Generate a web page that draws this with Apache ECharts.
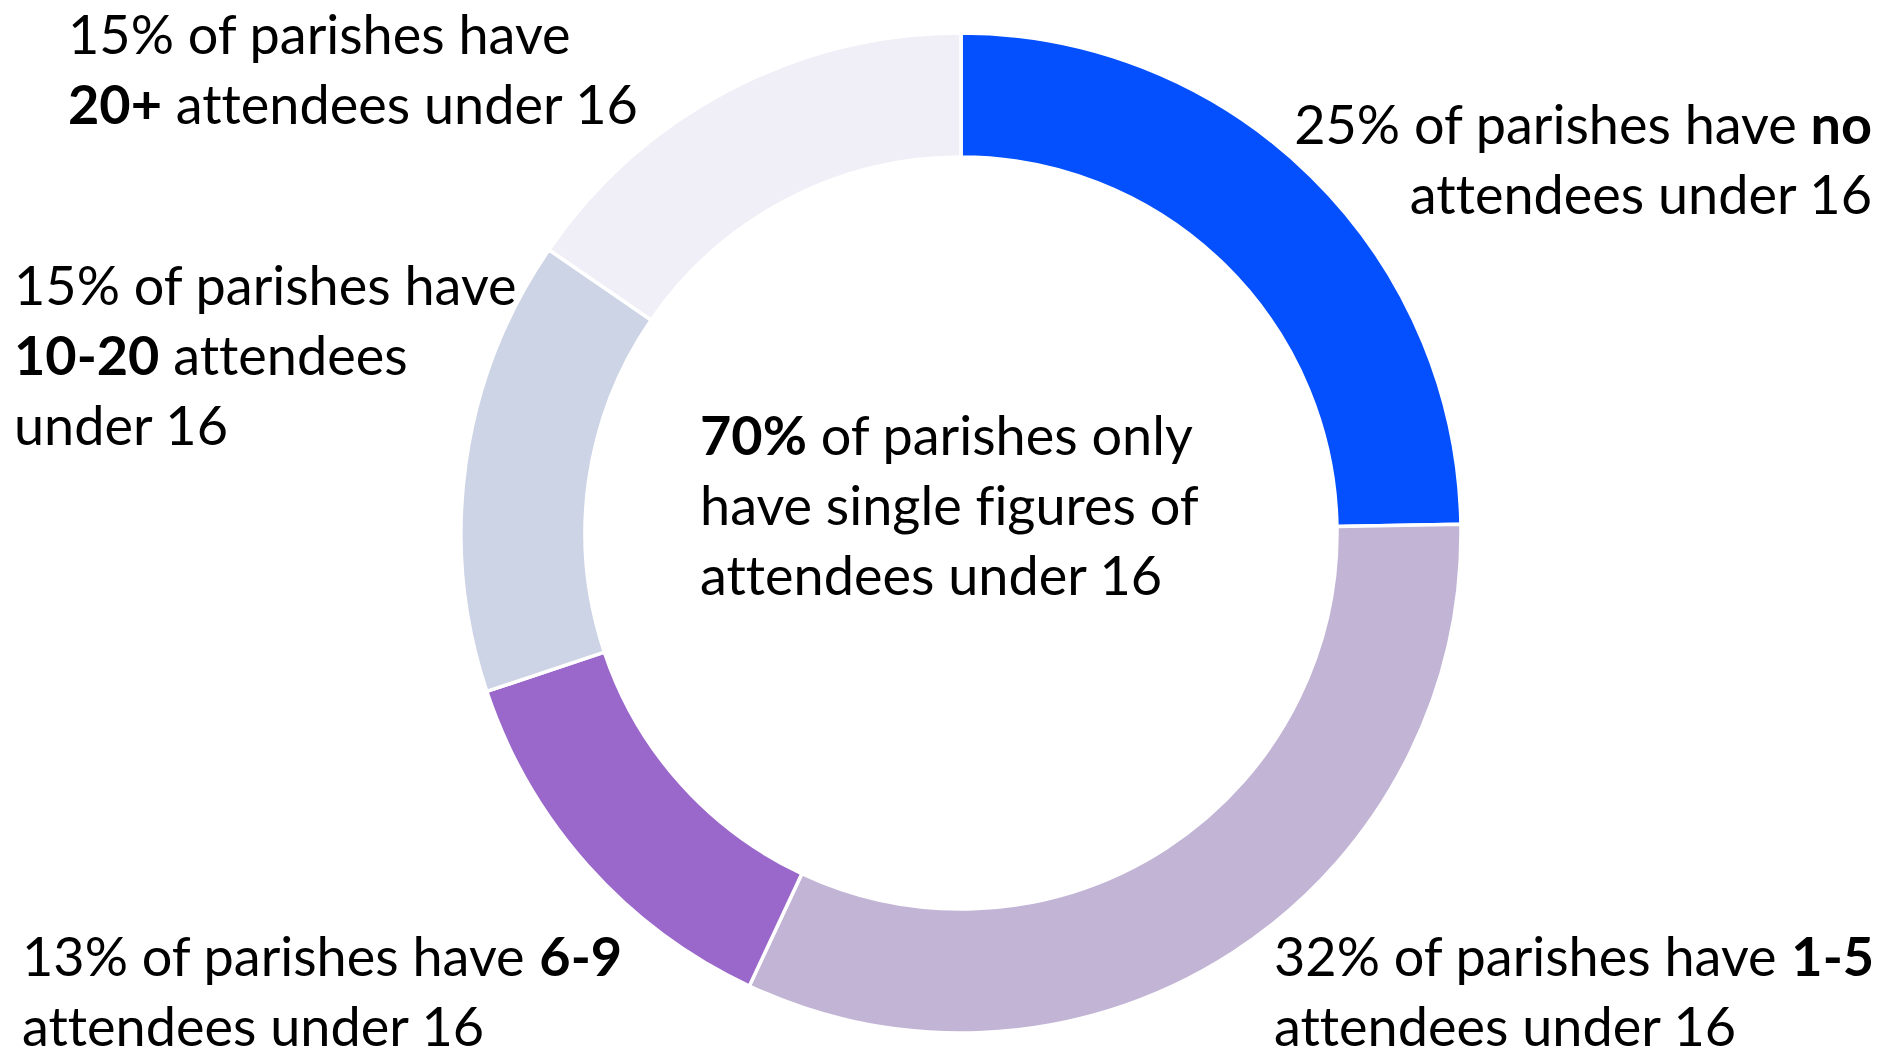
<!DOCTYPE html>
<html lang="en">
<head>
<meta charset="utf-8" />
<title>Parishes with attendees under 16</title>
<script src="https://cdn.jsdelivr.net/npm/echarts@6/dist/echarts.min.js"></script>
<style>
  html, body { margin: 0; padding: 0; background: #ffffff; }
  #contenedor-grafico { width: 1885px; height: 1061px; }
  #contenedor-grafico text { font-variant-ligatures: none; }
</style>
</head>
<body>
<div id="contenedor-grafico"></div>
<script>
// groups of parishes by number of attendees under 16, clockwise from the top
const grupos = ["no", "1-5", "6-9", "10-20", "20+"];
const porcentajes = [24.7, 32.2, 12.9, 14.7, 15.4];
const colores = ["#0450ff", "#c1b4d5", "#9a67ca", "#cdd4e6", "#f0eef6"];

// how each label is broken into lines (PCT and GRUPO get filled in)
const plantillas = [
  "{n|PCT of parishes have }{b|GRUPO}\n{n|attendees under 16}",
  "{n|PCT of parishes have }{b|GRUPO}\n{n|attendees under 16}",
  "{n|PCT of parishes have }{b|GRUPO}\n{n|attendees under 16}",
  "{n|PCT of parishes have}\n{b|GRUPO}{n| attendees}\n{n|under 16}",
  "{n|PCT of parishes have}\n{b|GRUPO}{n| attendees under 16}",
];

// where each label sits on the page
const posEtiquetas = [
  { x: 1872, y: 88, align: "right" },
  { x: 1274, y: 920, align: "left" },
  { x: 22, y: 920, align: "left" },
  { x: 14, y: 249, align: "left" },
  { x: 68, y: -2, align: "left" },
];

const fuente = "Lato, 'Open Sans', sans-serif";
const estilosTexto = {
  n: { fontFamily: fuente, fontSize: 54, lineHeight: 70, color: "#000000", fontWeight: "normal" },
  b: { fontFamily: fuente, fontSize: 54, lineHeight: 70, color: "#000000", fontWeight: "bold" },
};

function textoEtiqueta(i) {
  return plantillas[i].replace("PCT", Math.round(porcentajes[i]) + "%").replace("GRUPO", grupos[i]);
}

function crearGrafica() {
  var dom = document.getElementById("contenedor-grafico");
  var myChart = echarts.init(dom, null, { renderer: "svg" });

  // single figures = no + 1-5 + 6-9
  var unaCifra = Math.round(porcentajes[0] + porcentajes[1] + porcentajes[2]);

  var datos = grupos.map((g, i) => ({
    name: g,
    value: porcentajes[i],
    itemStyle: { color: colores[i] },
    label: { align: posEtiquetas[i].align },
  }));

  var option = {
    animation: false,
    title: {
      text: `{b|${unaCifra}%}{n| of parishes only}\n{n|have single figures of}\n{n|attendees under 16}`,
      left: 695,
      top: 394,
      textStyle: { fontWeight: "normal", rich: estilosTexto },
    },
    series: [
      {
        type: "pie",
        center: [961, 533],
        radius: [376, 500],
        startAngle: 90,
        clockwise: true,
        silent: true,
        avoidLabelOverlap: false,
        itemStyle: { borderColor: "#ffffff", borderWidth: 3.5 },
        label: {
          show: true,
          position: "inside",
          color: "#000000",
          formatter: (params) => textoEtiqueta(params.dataIndex),
          rich: estilosTexto,
        },
        labelLine: { show: false },
        labelLayout: (params) => ({
          x: posEtiquetas[params.dataIndex].x,
          y: posEtiquetas[params.dataIndex].y,
          align: posEtiquetas[params.dataIndex].align,
          verticalAlign: "top",
          hideOverlap: false,
        }),
        data: datos,
      },
    ],
  };

  myChart.setOption(option);
  window.addEventListener("resize", myChart.resize);
}

crearGrafica();
</script>
</body>
</html>
